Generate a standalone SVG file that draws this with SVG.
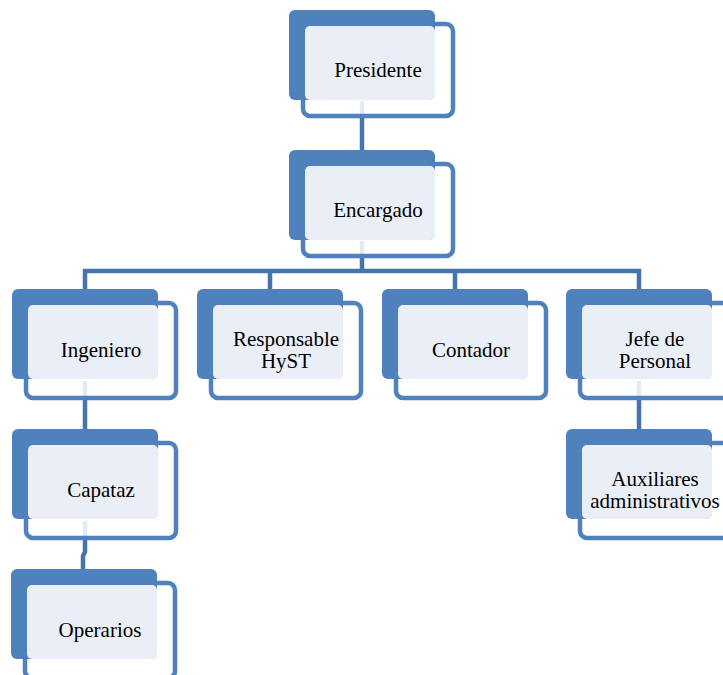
<svg xmlns="http://www.w3.org/2000/svg" width="723" height="675" viewBox="0 0 723 675">
<style>
.bk{fill:#4F81BD}
.fr{fill:none;stroke:#4F81BD;stroke-width:4.5}
.lt{fill:#EAEFF7}
.t{font-family:"Liberation Serif","Times New Roman",serif;font-size:21px;fill:#000;text-anchor:middle}
.c{stroke:#4675AE;stroke-width:4.5;fill:none}
.s{stroke:#E4EAF4;stroke-width:4.5}
</style>
<rect width="723" height="675" fill="#fff"/>
<g id="connectors">
<line class="c" x1="362" y1="116" x2="362" y2="150"/>
<line class="s" x1="362" y1="101" x2="362" y2="116"/>
<polyline class="c" points="362,256 362,271"/>
<polyline class="s" points="362,241 362,256"/>
<polyline class="c" points="85,289 85,271 639,271 639,289"/>
<line class="c" x1="270" y1="271" x2="270" y2="289"/>
<line class="c" x1="455" y1="271" x2="455" y2="289"/>
<line class="c" x1="85" y1="398" x2="85" y2="429"/>
<line class="s" x1="85" y1="381" x2="85" y2="398"/>
<polyline class="c" points="85,538 85,552 83,556 83,569"/>
<line class="s" x1="85" y1="521" x2="85" y2="538"/>
<line class="c" x1="639" y1="398" x2="639" y2="429"/>
<line class="s" x1="639" y1="381" x2="639" y2="398"/>
</g>
<g id="presidente">
<rect class="bk" x="289" y="10" width="146" height="90" rx="6"/>
<rect class="fr" x="303" y="24" width="150" height="92" rx="7"/>
<rect class="lt" x="305" y="26" width="130" height="74" rx="5"/>
<text class="t" x="378" y="77">Presidente</text>
</g>
<g id="encargado">
<rect class="bk" x="289" y="150" width="146" height="90" rx="6"/>
<rect class="fr" x="303" y="164" width="150" height="92" rx="7"/>
<rect class="lt" x="305" y="166" width="130" height="74" rx="5"/>
<text class="t" x="378" y="217">Encargado</text>
</g>
<g id="ingeniero">
<rect class="bk" x="12" y="289" width="146" height="90" rx="6"/>
<rect class="fr" x="26" y="303" width="150" height="95" rx="7"/>
<rect class="lt" x="28" y="305" width="130" height="74" rx="5"/>
<text class="t" x="101" y="357">Ingeniero</text>
</g>
<g id="responsable">
<rect class="bk" x="197" y="289" width="146" height="90" rx="6"/>
<rect class="fr" x="211" y="303" width="150" height="95" rx="7"/>
<rect class="lt" x="213" y="305" width="130" height="74" rx="5"/>
<text class="t" x="286" y="346">Responsable</text>
<text class="t" x="286" y="368">HyST</text>
</g>
<g id="contador">
<rect class="bk" x="382" y="289" width="146" height="90" rx="6"/>
<rect class="fr" x="396" y="303" width="150" height="95" rx="7"/>
<rect class="lt" x="398" y="305" width="130" height="74" rx="5"/>
<text class="t" x="471" y="357">Contador</text>
</g>
<g id="jefe">
<rect class="bk" x="566" y="289" width="146" height="90" rx="6"/>
<rect class="fr" x="580" y="303" width="150" height="95" rx="7"/>
<rect class="lt" x="582" y="305" width="130" height="74" rx="5"/>
<text class="t" x="655" y="346">Jefe de</text>
<text class="t" x="655" y="368">Personal</text>
</g>
<g id="capataz">
<rect class="bk" x="12" y="429" width="146" height="90" rx="6"/>
<rect class="fr" x="26" y="443" width="150" height="95" rx="7"/>
<rect class="lt" x="28" y="445" width="130" height="74" rx="5"/>
<text class="t" x="101" y="497">Capataz</text>
</g>
<g id="auxiliares">
<rect class="bk" x="566" y="429" width="146" height="90" rx="6"/>
<rect class="fr" x="580" y="443" width="150" height="95" rx="7"/>
<rect class="lt" x="582" y="445" width="130" height="74" rx="5"/>
<text class="t" x="655" y="486">Auxiliares</text>
<text class="t" x="655" y="508">administrativos</text>
</g>
<g id="operarios">
<rect class="bk" x="11" y="569" width="146" height="90" rx="6"/>
<rect class="fr" x="25" y="583" width="150" height="95" rx="7"/>
<rect class="lt" x="27" y="585" width="130" height="74" rx="5"/>
<text class="t" x="100" y="637">Operarios</text>
</g>
</svg>
